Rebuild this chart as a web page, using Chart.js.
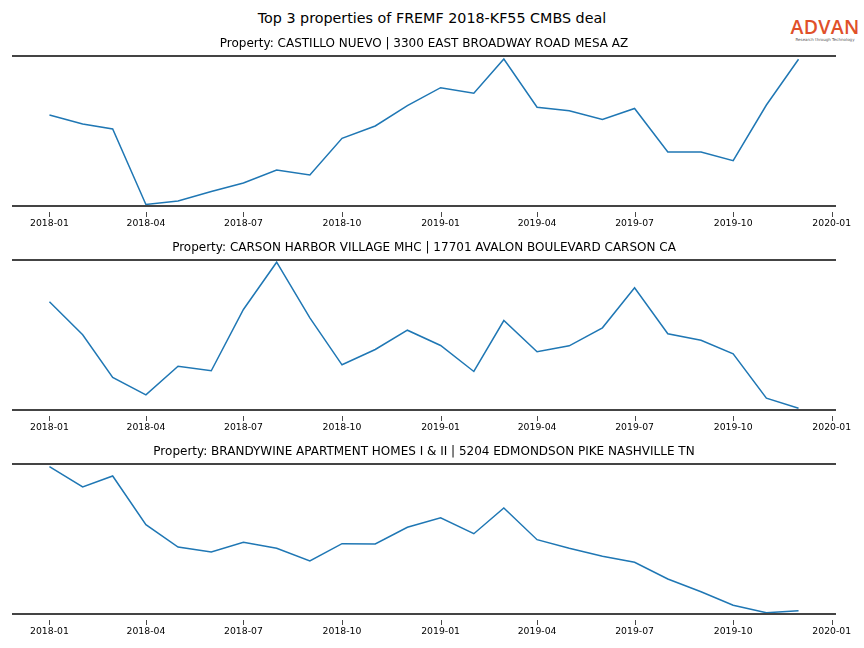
<!DOCTYPE html>
<html>
<head>
<meta charset="utf-8">
<script src="https://cdn.jsdelivr.net/npm/chart.js@4/dist/chart.umd.min.js"></script>
<style>
    body { margin: 0; background: #fff; font-family: "DejaVu Sans", sans-serif; }
    #page { position: relative; width: 864px; height: 648px; overflow: hidden; }
    .panel { position: absolute; left: 0; width: 864px; }
    #mainTitle { position: absolute; top: 10px; left: 0; width: 864px; text-align: center; font-size: 14.3px; color: #000; }
    #logo { position: absolute; top: 16px; left: 790px; width: 70px; text-align: center; }
    #logo .brand { font-family: "Open Sans", sans-serif; font-weight: 600; font-size: 19.5px; letter-spacing: 0.3px; color: #e0502a; line-height: 21px; }
    #logo .tag { font-size: 4px; color: #555; line-height: 5px; white-space: nowrap; }
</style>
</head>
<body>
<div id="page">
    <div id="mainTitle">Top 3 properties of FREMF 2018-KF55 CMBS deal</div>
    <div id="logo"><div class="brand">ADVAN</div><div class="tag">Research through Technology</div></div>
    <div class="panel" style="top:35px;height:200px"><canvas id="p1"></canvas></div>
    <div class="panel" style="top:239px;height:200px"><canvas id="p2"></canvas></div>
    <div class="panel" style="top:443px;height:200px"><canvas id="p3"></canvas></div>
</div>
<script>
// --- Données ---
const months = [
    "2018-01", "2018-02", "2018-03", "2018-04", "2018-05", "2018-06",
    "2018-07", "2018-08", "2018-09", "2018-10", "2018-11", "2018-12",
    "2019-01", "2019-02", "2019-03", "2019-04", "2019-05", "2019-06",
    "2019-07", "2019-08", "2019-09", "2019-10", "2019-11", "2019-12"
];
const tickLabels = ["2018-01", "2018-04", "2018-07", "2018-10", "2019-01", "2019-04", "2019-07", "2019-10", "2020-01"];

const castilloTitle = "Property: CASTILLO NUEVO | 3300 EAST BROADWAY ROAD MESA AZ";
const castilloValues = [91, 82, 77, 1.5, 5, 14.5, 23, 36, 31, 67.7, 80, 100.3,
                        118.3, 112.7, 147, 98.7, 95.3, 86.5, 97.5, 54, 54, 45.3, 101, 146.7];

const carsonTitle = "Property: CARSON HARBOR VILLAGE MHC | 17701 AVALON BOULEVARD CARSON CA";
const carsonValues = [108.2, 75.2, 32.5, 15.2, 43.8, 39.2, 100.5, 147.8, 92.2, 45.2, 60.5, 79.8,
                      64.5, 38.5, 89.5, 58.2, 64.2, 82.2, 122.2, 76.2, 69.8, 56.2, 11.8, 1.8];

const brandywineTitle = "Property: BRANDYWINE APARTMENT HOMES I & II | 5204 EDMONDSON PIKE NASHVILLE TN";
const brandywineValues = [147.3, 127, 138, 89.3, 67, 62, 71.7, 65.7, 53, 70.3, 70, 86.7,
                          96.3, 80.3, 106, 74.3, 65.7, 57.7, 51.7, 35, 22.3, 8.7, 1.3, 3.3];

// --- Utilitaires ---
const DAY = 86400000;
const BASE = Date.UTC(2018, 0, 1);

// "2018-04" -> nombre de jours depuis 2018-01-01
function toDay(label) {
    const [y, m] = label.split("-").map(Number);
    return (Date.UTC(y, m - 1, 1) - BASE) / DAY;
}

const xs = months.map(toDay);
const margin = 0.05 * (xs[xs.length - 1] - xs[0]);

// Bordures haut/bas + petites graduations sous l'axe
const spinesPlugin = {
    id: 'spines',
    afterDraw(chart) {
        const { ctx, chartArea: a } = chart;
        const xScale = chart.scales.x;
        ctx.save();
        ctx.strokeStyle = '#444';
        ctx.lineWidth = 1.8;
        ctx.beginPath();
        ctx.moveTo(a.left, a.top); ctx.lineTo(a.right, a.top);
        ctx.moveTo(a.left, a.bottom); ctx.lineTo(a.right, a.bottom);
        ctx.stroke();
        ctx.lineWidth = 0.9;
        ctx.strokeStyle = '#333';
        ctx.beginPath();
        xScale.ticks.forEach(t => {
            const px = Math.round(xScale.getPixelForValue(t.value)) + 0.5;
            ctx.moveTo(px, a.bottom + 6);
            ctx.lineTo(px, a.bottom + 11);
        });
        ctx.stroke();
        ctx.restore();
    }
};

function createPanel(canvasId, title, values) {
    const ctx = document.getElementById(canvasId).getContext('2d');
    new Chart(ctx, {
        type: 'line',
        data: {
            datasets: [{
                data: values.map((v, i) => ({ x: xs[i], y: v })),
                borderColor: '#1f77b4',
                borderWidth: 1.5,
                pointRadius: 0,
                tension: 0,
                fill: false
            }]
        },
        options: {
            responsive: true, maintainAspectRatio: false, animation: false,
            layout: { padding: { left: 12, right: 28, top: 0, bottom: 0 } },
            plugins: {
                legend: { display: false },
                tooltip: { enabled: false },
                title: {
                    display: true, text: title, color: '#000',
                    font: { family: 'DejaVu Sans', size: 12, weight: 'normal' },
                    padding: { top: 1.5, bottom: 5.1 }
                }
            },
            scales: {
                x: {
                    type: 'linear',
                    min: xs[0] - margin,
                    max: xs[xs.length - 1] + margin,
                    afterBuildTicks: (scale) => {
                        scale.ticks = tickLabels.map(l => ({ value: toDay(l) }));
                    },
                    afterFit: (scale) => { scale.height = 29; },
                    grid: { display: false, drawTicks: false },
                    border: { display: false },
                    ticks: {
                        autoSkip: false, maxRotation: 0, padding: 12.5, color: '#000',
                        font: { family: 'DejaVu Sans', size: 9.3 },
                        callback: (value, index) => tickLabels[index]
                    }
                },
                y: { display: false, min: 0, max: 150 }
            }
        },
        plugins: [spinesPlugin]
    });
}

createPanel('p1', castilloTitle, castilloValues);
createPanel('p2', carsonTitle, carsonValues);
createPanel('p3', brandywineTitle, brandywineValues);
</script>
</body>
</html>
